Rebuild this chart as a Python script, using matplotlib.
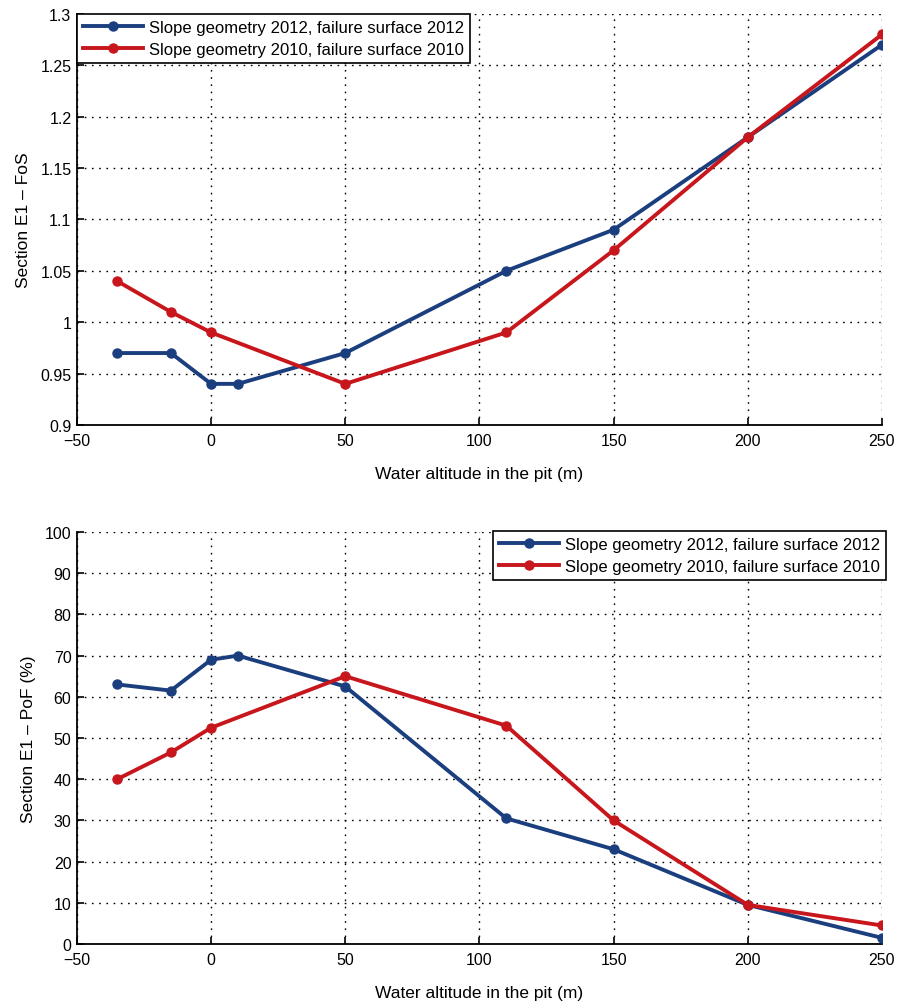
import matplotlib.pyplot as plt
from matplotlib.ticker import FuncFormatter

plt.rcParams['font.family'] = ['Liberation Sans', 'DejaVu Sans']

# water altitude in the pit (m)
alt_2012 = [-35, -15, 0, 10, 50, 110, 150, 200, 250]
alt_2010 = [-35, -15, 0, 50, 110, 150, 200, 250]

# factor of safety
fos_2012 = [0.97, 0.97, 0.94, 0.94, 0.97, 1.05, 1.09, 1.18, 1.27]
fos_2010 = [1.04, 1.01, 0.99, 0.94, 0.99, 1.07, 1.18, 1.28]

# probability of failure (%)
pof_2012 = [63, 61.5, 69, 70, 62.5, 30.5, 23, 9.5, 1.5]
pof_2010 = [40, 46.5, 52.5, 65, 53, 30, 9.5, 4.5]

lab_2012 = 'Slope geometry 2012, failure surface 2012'
lab_2010 = 'Slope geometry 2010, failure surface 2010'
blue = '#1b3f7e'
red = '#c8161d'

fig = plt.figure(figsize=(8.98, 10.03), dpi=100)
ax1 = fig.add_axes([0.0857, 0.5753, 0.8964, 0.4098])
ax2 = fig.add_axes([0.0857, 0.0578, 0.8964, 0.4108])

def style(ax):
    ax.set_xlim(-50, 250)
    ax.set_xticks([-50, 0, 50, 100, 150, 200, 250])
    ax.grid(True, color='black', linestyle=(0, (1.2, 4)), linewidth=1.0)
    ax.tick_params(direction='in', length=5, width=1.2, labelsize=11.5)
    ax.tick_params(axis='x', pad=6)
    ax.tick_params(axis='y', pad=4)
    for s in ['top', 'right']:
        ax.spines[s].set_visible(False)
    for s in ['left', 'bottom']:
        ax.spines[s].set_linewidth(1.3)
    ax.set_xlabel('Water altitude in the pit (m)', fontsize=12.5, labelpad=13)

def legend(ax, **kw):
    leg = ax.legend(fontsize=12, frameon=True, fancybox=False,
                    edgecolor='black', borderaxespad=0, handlelength=3.6,
                    borderpad=0.35, labelspacing=0.45, handletextpad=0.35, **kw)
    leg.get_frame().set_linewidth(1.2)
    leg.get_frame().set_alpha(1)

ax1.plot(alt_2012, fos_2012, color=blue, lw=2.8, marker='o', ms=6.5, label=lab_2012, zorder=3)
ax1.plot(alt_2010, fos_2010, color=red, lw=2.8, marker='o', ms=6.5, label=lab_2010, zorder=3)
style(ax1)
ax1.set_ylim(0.9, 1.3)
ax1.set_yticks([0.9, 0.95, 1, 1.05, 1.1, 1.15, 1.2, 1.25, 1.3])
ax1.yaxis.set_major_formatter(FuncFormatter(lambda v, p: '%g' % round(v, 2)))
ax1.set_ylabel('Section E1 \u2013 FoS', fontsize=12.5, labelpad=7)
legend(ax1, loc='upper left')

ax2.plot(alt_2012, pof_2012, color=blue, lw=2.8, marker='o', ms=6.5, label=lab_2012, zorder=3)
ax2.plot(alt_2010, pof_2010, color=red, lw=2.8, marker='o', ms=6.5, label=lab_2010, zorder=3)
style(ax2)
ax2.set_ylim(0, 100)
ax2.set_yticks(range(0, 101, 10))
ax2.set_ylabel('Section E1 \u2013 PoF (%)', fontsize=12.5, labelpad=6)
legend(ax2, loc='upper right', bbox_to_anchor=(1.005, 1.003))

fig.savefig('out.png', dpi=100)
